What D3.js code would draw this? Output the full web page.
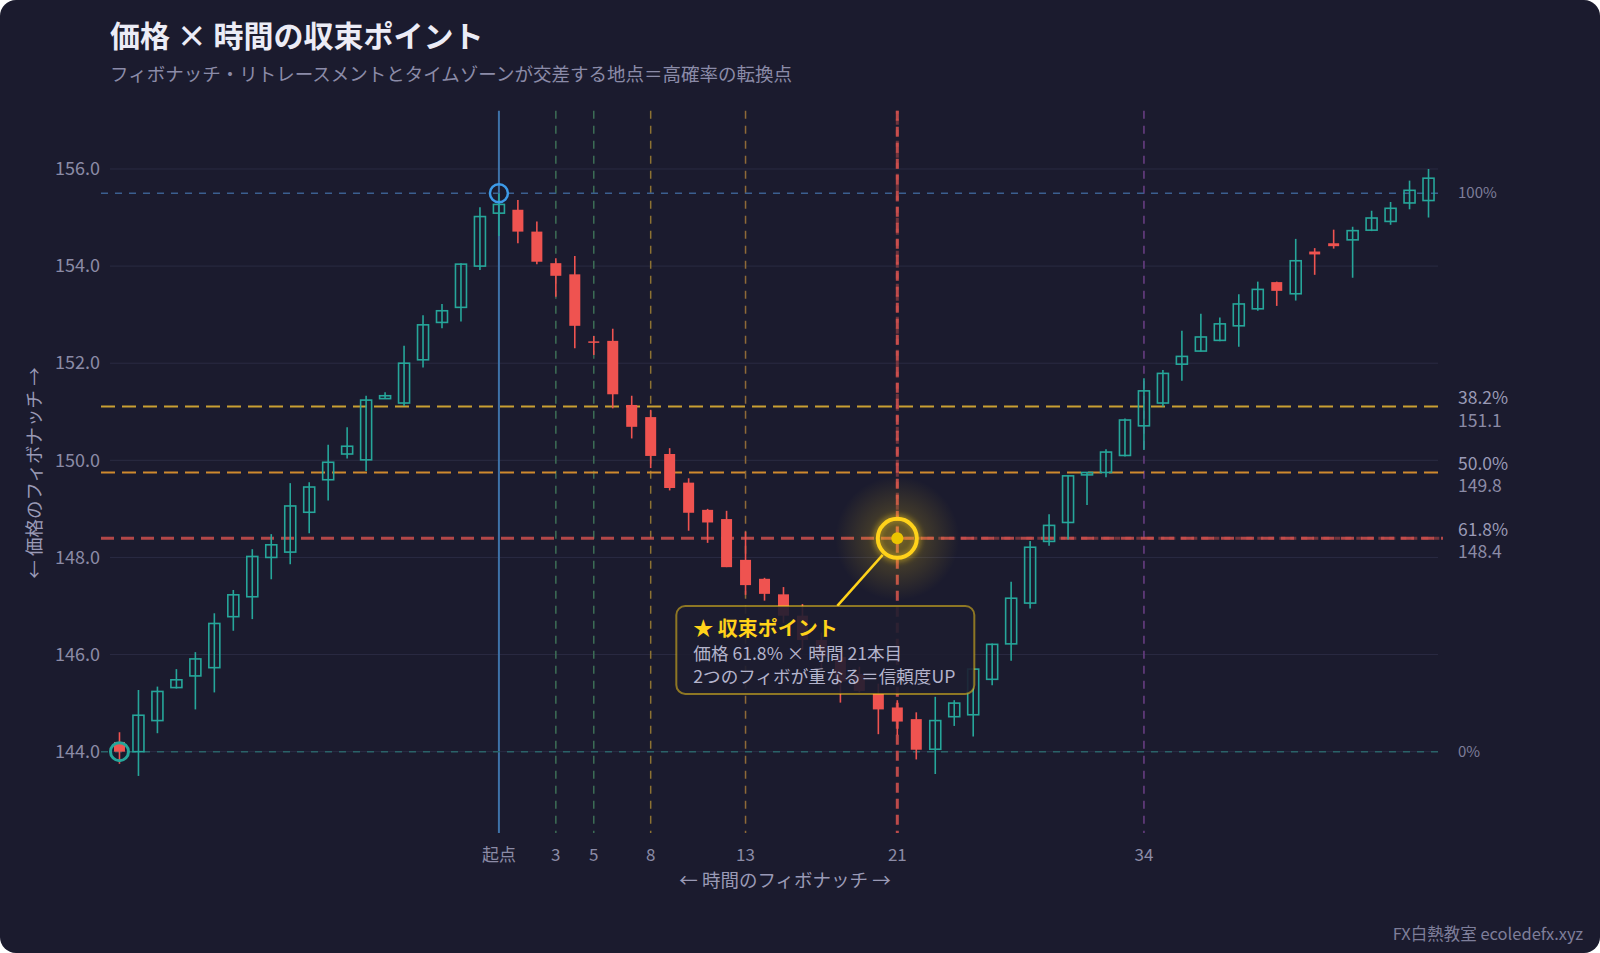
<!DOCTYPE html>
<html><head><meta charset="utf-8">
<script src="https://cdn.jsdelivr.net/npm/d3@7"></script>
<style>
html,body{margin:0;padding:0;background:#ffffff;overflow:hidden;}
svg{display:block;font-family:"Noto Sans CJK JP","Noto Sans",sans-serif;}
</style></head><body>
<svg id="chart" width="1600" height="953"></svg>
<script>
// ---------------- DATA ----------------
const barIndex = [0,1,2,3,4,5,6,7,8,9,10,11,12,13,14,15,16,17,18,19,20,21,22,23,24,25,26,27,28,29,30,31,32,33,34,35,36,37,38,39,40,41,42,43,44,45,46,47,48,49,50,51,52,53,54,55,56,57,58,59,60,61,62,63,64,65,66,67,68,69];
const opens  = [144.20,144.00,144.64,145.32,145.56,145.73,146.78,147.19,148.00,148.11,148.93,149.60,150.13,150.01,151.27,151.18,152.07,152.84,153.15,154.00,155.09,155.16,154.71,154.06,153.83,152.45,152.46,151.14,150.89,150.13,149.54,148.98,148.79,147.95,147.56,147.24,146.80,146.30,145.95,145.60,145.20,144.91,144.67,144.05,144.72,144.76,145.49,146.22,147.06,148.33,148.72,149.70,149.75,150.10,150.71,151.18,151.98,152.25,152.47,152.77,153.12,153.67,153.43,154.30,154.47,154.54,154.74,154.92,155.30,155.35];
const highs  = [144.40,145.27,145.34,145.70,146.05,146.85,147.33,148.17,148.48,149.53,149.55,150.32,150.68,151.33,151.40,152.36,152.99,153.22,154.06,155.21,155.50,155.36,154.92,154.16,154.21,152.56,152.71,151.33,151.04,150.25,149.63,149.00,148.96,148.53,147.58,147.39,147.04,146.45,146.10,145.75,145.40,145.06,144.81,145.13,145.06,145.72,146.23,147.50,148.34,148.89,149.70,149.76,150.23,150.86,151.69,151.86,152.67,153.02,152.94,153.42,153.68,153.68,154.56,154.37,154.75,154.81,155.14,155.32,155.76,156.00];
const lows   = [143.75,143.50,144.38,145.30,144.87,145.22,146.49,146.73,147.55,147.86,148.50,149.17,150.04,149.78,151.27,151.12,151.91,152.72,152.86,153.92,154.62,154.47,154.04,153.37,152.31,152.17,151.07,150.45,149.84,149.38,148.55,148.30,147.80,147.23,147.11,146.65,146.10,145.70,145.01,145.22,144.36,144.34,143.84,143.54,144.53,144.31,145.37,145.87,146.95,148.24,148.37,149.08,149.65,150.08,150.21,151.11,151.64,152.24,152.45,152.34,153.08,153.18,153.29,153.82,154.36,153.76,154.72,154.85,155.17,155.00];
const closes = [144.00,144.75,145.24,145.48,145.91,146.64,147.23,148.02,148.26,149.06,149.45,149.96,150.29,151.24,151.33,152.00,152.79,153.08,154.04,155.02,155.27,154.71,154.09,153.80,152.77,152.42,151.36,150.69,150.09,149.43,148.92,148.72,147.80,147.43,147.25,146.80,146.30,145.95,145.45,145.25,144.87,144.62,144.04,144.64,145.00,145.70,146.21,147.16,148.21,148.66,149.68,149.75,150.17,150.83,151.43,151.79,152.14,152.54,152.81,153.22,153.52,153.49,154.11,154.24,154.41,154.73,154.99,155.19,155.56,155.81];

const yTicks = [144, 146, 148, 150, 152, 154, 156];
const swingHigh = 155.5;
const swingLow = 144.0;
const fibRatios = [1, 0.382, 0.5, 0.618, 0];
const fibPctLabels = ["100%", "38.2%", "50.0%", "61.8%", "0%"];
const fibValueLabels = ["", "151.1", "149.8", "148.4", ""];
const startBar = 20;
const timeOffsets = [0, 3, 5, 8, 13, 21, 34];
const timeLabels = ["起点", "3", "5", "8", "13", "21", "34"];
const convergenceOffset = 21;
const convergenceRatio = 0.618;

const titleText = "価格 × 時間の収束ポイント";
const subtitleText = "フィボナッチ・リトレースメントとタイムゾーンが交差する地点＝高確率の転換点";
const yAxisTitle = "← 価格のフィボナッチ →";
const xAxisTitle = "← 時間のフィボナッチ →";
const calloutLines = ["★ 収束ポイント", "価格 61.8% × 時間 21本目", "2つのフィボが重なる＝信頼度UP"];
const footerText = "FX白熱教室 ecoledefx.xyz";

// ---------------- STYLES ----------------
const BG = "#1b1b2e";
const fibStyles = {
  1:     {stroke:"#3b5f8f", width:1.5, dash:"7,7", op:1},
  0.382: {stroke:"#c9a033", width:2,   dash:"14,7", op:1},
  0.5:   {stroke:"#cf8a2e", width:2,   dash:"14,7", op:1},
  0.618: {stroke:"#d9534f", width:3,   dash:"13,7", op:0.8},
  0:     {stroke:"#2a6268", width:1.5, dash:"7,7", op:1}
};
const timeStyles = {
  0:  {stroke:"#3e72a8", width:2,   dash:null, op:1},
  3:  {stroke:"#3d6e56", width:1.5, dash:"8,7", op:1},
  5:  {stroke:"#3d6e56", width:1.5, dash:"8,7", op:1},
  8:  {stroke:"#8d7232", width:1.5, dash:"8,7", op:1},
  13: {stroke:"#8f6a38", width:1.5, dash:"8,7", op:1},
  21: {stroke:"#d9534f", width:3,   dash:"10,6", op:0.85},
  34: {stroke:"#6b3f86", width:1.5, dash:"8,7", op:1}
};
const UP = "#26a69a", DOWN = "#ef5350", GOLD = "#ffd21a";

// ---------------- LAYOUT ----------------
const svg = d3.select("#chart");
const W = 1600, H = 953;
const plot = {left:110, right:1438, top:110.7, bottom:833};

const x = d3.scaleBand().domain(barIndex).range([plot.left, plot.right]).padding(0);
const cx = i => x(i) + x.bandwidth() / 2;
const y = d3.scaleLinear().domain([142.325, 157.2]).range([plot.bottom, plot.top]);

const defs = svg.append("defs");
const rg = defs.append("radialGradient").attr("id", "glow");
rg.append("stop").attr("offset", "0%").attr("stop-color", GOLD).attr("stop-opacity", 0.42);
rg.append("stop").attr("offset", "45%").attr("stop-color", GOLD).attr("stop-opacity", 0.16);
rg.append("stop").attr("offset", "100%").attr("stop-color", GOLD).attr("stop-opacity", 0);
const blur = defs.append("filter").attr("id", "soft").attr("x", "-50%").attr("y", "-50%").attr("width", "200%").attr("height", "200%");
blur.append("feGaussianBlur").attr("stdDeviation", 3);

// card
svg.append("rect").attr("x", 0).attr("y", 0).attr("width", W).attr("height", H)
  .attr("rx", 16).attr("fill", BG);

// title
svg.append("text").attr("x", 110).attr("y", 47).attr("fill", "#ececf6")
  .attr("font-size", 30).attr("font-weight", 700).text(titleText);
svg.append("text").attr("x", 110).attr("y", 81).attr("fill", "#8b8ba8")
  .attr("font-size", 18.5).text(subtitleText);

// grid
const grid = svg.append("g");
grid.selectAll("line").data(yTicks).join("line")
  .attr("x1", plot.left).attr("x2", plot.right)
  .attr("y1", d => y(d)).attr("y2", d => y(d))
  .attr("stroke", "#2a2b43").attr("stroke-width", 1);

// y axis ticks (axis with hidden domain)
const yAxis = d3.axisLeft(y).tickValues(yTicks).tickFormat(d3.format(".1f")).tickSize(0).tickPadding(0);
const gy = svg.append("g").attr("transform", `translate(100,0)`).call(yAxis);
gy.select(".domain").remove();
gy.selectAll("text").attr("fill", "#8b8ba6").attr("font-size", 18)
  .attr("font-family", '"Noto Sans CJK JP","Noto Sans",sans-serif');

// vertical time lines
const tl = svg.append("g");
tl.selectAll("line").data(timeOffsets).join("line")
  .attr("x1", d => cx(startBar + d)).attr("x2", d => cx(startBar + d))
  .attr("y1", plot.top).attr("y2", plot.bottom)
  .attr("stroke", d => timeStyles[d].stroke)
  .attr("stroke-width", d => timeStyles[d].width)
  .attr("stroke-dasharray", d => timeStyles[d].dash)
  .attr("opacity", d => timeStyles[d].op);

// horizontal fib lines
const fibVal = r => swingHigh - (swingHigh - swingLow) * (r === 1 ? 0 : (r === 0 ? 1 : r));
const fl = svg.append("g");
fl.selectAll("line").data(fibRatios).join("line")
  .attr("x1", 101).attr("x2", 1443)
  .attr("y1", d => y(fibVal(d))).attr("y2", d => y(fibVal(d)))
  .attr("stroke", d => fibStyles[d].stroke)
  .attr("stroke-width", d => fibStyles[d].width)
  .attr("stroke-dasharray", d => fibStyles[d].dash)
  .attr("opacity", d => fibStyles[d].op);

// convergence overlays (crosshair)
const px = cx(startBar + convergenceOffset);
const py = y(fibVal(convergenceRatio));
svg.append("line").attr("x1", px).attr("x2", 1443).attr("y1", py).attr("y2", py)
  .attr("stroke", "#d9534f").attr("stroke-width", 3).attr("stroke-dasharray", "6,5")
  .attr("stroke-dashoffset", 3).attr("opacity", 0.45);
svg.append("line").attr("x1", px).attr("x2", px).attr("y1", plot.top).attr("y2", py)
  .attr("stroke", "#d9534f").attr("stroke-width", 3).attr("stroke-dasharray", "6,5")
  .attr("stroke-dashoffset", 3).attr("opacity", 0.45);

// right labels
const rl = svg.append("g").attr("fill", "#9a9ab6");
fibRatios.forEach((r, i) => {
  const yy = y(fibVal(r));
  if (fibValueLabels[i] === "") {
    rl.append("text").attr("x", 1458).attr("y", yy).attr("dy", "0.35em")
      .attr("font-size", 15).attr("fill", "#7e7e9a").text(fibPctLabels[i]);
  } else {
    rl.append("text").attr("x", 1458).attr("y", yy - 2.5).attr("font-size", 17.5).text(fibPctLabels[i]);
    rl.append("text").attr("x", 1458).attr("y", yy + 20).attr("font-size", 17.5).attr("fill", "#8b8ba6").text(fibValueLabels[i]);
  }
});

// candles
const bw = 11;
const cg = svg.append("g");
const cand = cg.selectAll("g").data(barIndex).join("g");
cand.append("line")
  .attr("x1", d => cx(d)).attr("x2", d => cx(d))
  .attr("y1", d => y(highs[d])).attr("y2", d => y(lows[d]))
  .attr("stroke", d => closes[d] >= opens[d] ? UP : DOWN).attr("stroke-width", 1.6);
cand.append("rect")
  .attr("x", d => cx(d) - bw / 2)
  .attr("y", d => y(Math.max(opens[d], closes[d])))
  .attr("width", bw)
  .attr("height", d => Math.max(1.5, Math.abs(y(opens[d]) - y(closes[d]))))
  .attr("fill", d => closes[d] >= opens[d] ? "none" : DOWN)
  .attr("stroke", d => closes[d] >= opens[d] ? UP : DOWN)
  .attr("stroke-width", d => closes[d] >= opens[d] ? 1.6 : 0);

// swing markers
svg.append("circle").attr("cx", cx(startBar)).attr("cy", y(swingHigh)).attr("r", 9)
  .attr("fill", "none").attr("stroke", "#3d9be9").attr("stroke-width", 2.5);
svg.append("circle").attr("cx", cx(0)).attr("cy", y(swingLow)).attr("r", 9)
  .attr("fill", "none").attr("stroke", UP).attr("stroke-width", 3);

// x tick labels
const xl = svg.append("g");
xl.selectAll("text").data(timeOffsets).join("text")
  .attr("x", d => cx(startBar + d)).attr("y", 861)
  .attr("text-anchor", "middle").attr("font-size", 17).attr("fill", "#8b8ba6")
  .text((d, i) => timeLabels[i]);

// axis titles
svg.append("text").attr("x", 785).attr("y", 887).attr("text-anchor", "middle")
  .attr("font-size", 18.5).attr("fill", "#9a9ab6").text(xAxisTitle);
svg.append("text").attr("transform", `translate(41,473) rotate(-90)`).attr("text-anchor", "middle")
  .attr("font-size", 18.5).attr("fill", "#9a9ab6").text(yAxisTitle);

// convergence glow + point
svg.append("circle").attr("cx", px).attr("cy", py).attr("r", 62).attr("fill", "url(#glow)");
svg.append("circle").attr("cx", px).attr("cy", py).attr("r", 19.5).attr("fill", "none")
  .attr("stroke", GOLD).attr("stroke-width", 6).attr("opacity", 0.5).attr("filter", "url(#soft)");
svg.append("circle").attr("cx", px).attr("cy", py).attr("r", 19.5).attr("fill", "none")
  .attr("stroke", GOLD).attr("stroke-width", 4);
svg.append("circle").attr("cx", px).attr("cy", py).attr("r", 6).attr("fill", "#ecc400");

// callout
const box = {x: px - 221, y: py + 67.6, w: 298, h: 88};
const ang = Math.atan2(box.y - py, (box.x + 161) - px);
svg.append("line")
  .attr("x1", px + 22 * Math.cos(ang)).attr("y1", py + 22 * Math.sin(ang))
  .attr("x2", box.x + 161).attr("y2", box.y)
  .attr("stroke", GOLD).attr("stroke-width", 2.5);
svg.append("rect").attr("x", box.x).attr("y", box.y).attr("width", box.w).attr("height", box.h)
  .attr("rx", 9).attr("fill", "#1d1d30").attr("fill-opacity", 0.9)
  .attr("stroke", GOLD).attr("stroke-opacity", 0.5).attr("stroke-width", 2);
svg.append("text").attr("x", box.x + 17).attr("y", box.y + 30).attr("font-size", 20)
  .attr("font-weight", 700).attr("fill", GOLD).text(calloutLines[0]);
svg.append("text").attr("x", box.x + 17).attr("y", box.y + 54).attr("font-size", 17.6)
  .attr("fill", "#b4b4cc").text(calloutLines[1]);
svg.append("text").attr("x", box.x + 17).attr("y", box.y + 77).attr("font-size", 17.6)
  .attr("fill", "#b4b4cc").text(calloutLines[2]);

// footer
svg.append("text").attr("x", 1583).attr("y", 940).attr("text-anchor", "end")
  .attr("font-size", 16.5).attr("fill", "#7e7e9a").text(footerText);
</script>
</body></html>
